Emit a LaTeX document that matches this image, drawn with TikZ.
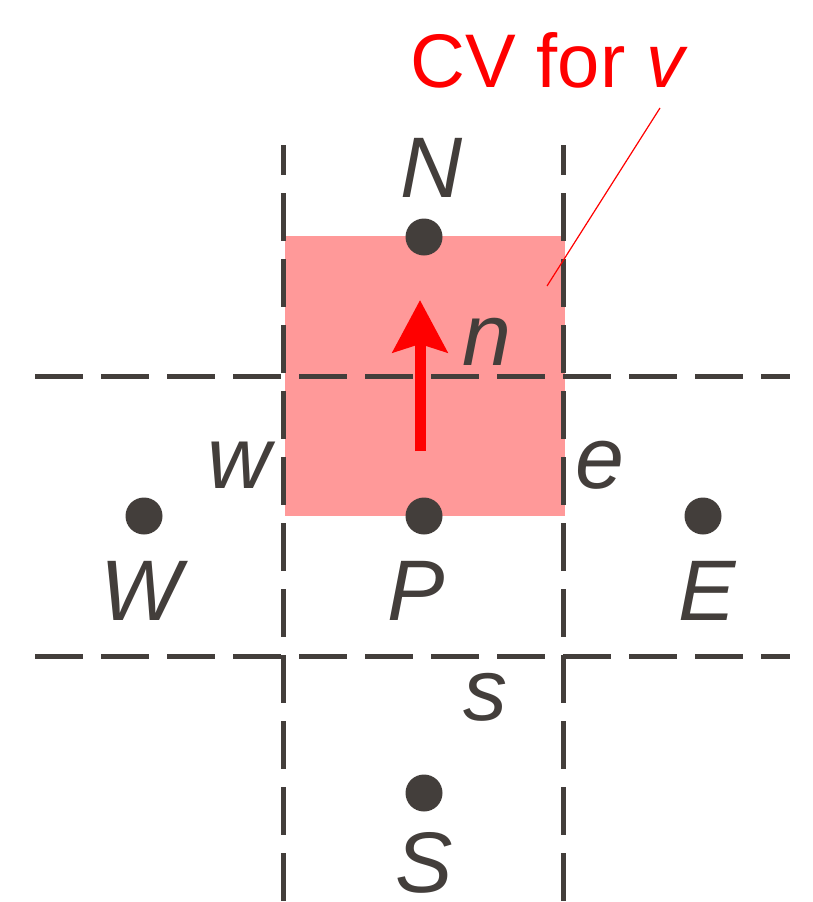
\documentclass[tikz,border=0pt]{standalone}
\usepackage{fontspec}
\setmainfont{Liberation Sans}
\usetikzlibrary{arrows.meta}
\definecolor{ink}{RGB}{67,62,59}
\definecolor{cvpink}{RGB}{255,153,153}
\definecolor{cvred}{RGB}{255,0,0}
\begin{document}
\begin{tikzpicture}[x=1pt,y=-1pt,
  gridline/.style={draw=ink,line width=5pt,dash pattern=on 48pt off 18pt},
  vgrid/.style={gridline,dash phase=18pt},
  gridpt/.style={circle,fill=ink,minimum size=37pt,inner sep=0pt},
  biglbl/.style={text=ink,font=\fontsize{86}{86}\selectfont\itshape,inner sep=0pt,anchor=base,text depth=0pt},
  facelbl/.style={text=ink,font=\fontsize{88}{88}\selectfont\itshape,inner sep=0pt,anchor=base},
  cvlbl/.style={text=cvred,font=\fontsize{76}{76}\selectfont,inner sep=0pt,anchor=base west},
  cvarrow/.style={draw=cvred,line width=11pt,-{Stealth[length=52pt,width=54pt,inset=8pt]}},
  leader/.style={draw=cvred,line width=1.2pt}
]
\useasboundingbox (0,0) rectangle (813,902);
% control volume
\fill[cvpink] (285,236) rectangle (565,516);
% grid lines
\coordinate (h1a) at (35,376);  \coordinate (h1b) at (790,376);
\coordinate (h2a) at (35,656);  \coordinate (h2b) at (790,656);
\coordinate (v1a) at (283,145); \coordinate (v1b) at (283,902);
\coordinate (v2a) at (563,145); \coordinate (v2b) at (563,902);
\draw[gridline] (h1a) -- (h1b);
\draw[gridline] (h2a) -- (h2b);
\draw[vgrid] (v1a) -- (v1b);
\draw[vgrid] (v2a) -- (v2b);
% nodes
\node[gridpt] (N) at (424,237) {};
\node[gridpt] (P) at (424,516) {};
\node[gridpt] (W) at (144,516) {};
\node[gridpt] (E) at (703,516) {};
\node[gridpt] (S) at (424,793) {};
% labels
\node[biglbl] (Nl) at (432,197) {N};
\node[biglbl] (Wl) at (141,620) {W};
\node[biglbl] (Pl) at (416,620) {P};
\node[biglbl] (El) at (707,620) {E};
\node[biglbl] (Sl) at (424,892) {S};
\node[facelbl] (wl) at (239,488) {w};
\node[facelbl] (el) at (600,488) {e};
\node[facelbl] (nl) at (487,365) {n};
\node[facelbl] (sl) at (485,720) {s};
% velocity arrow
\coordinate (a0) at (420,451);
\coordinate (a1) at (420,300);
\draw[cvarrow] (a0) -- (a1);
% CV label and leader
\node[cvlbl] (cv) at (410,87) {CV for \textit{v}};
\coordinate (l0) at (660,108);
\coordinate (l1) at (547,286);
\draw[leader] (l0) -- (l1);
\end{tikzpicture}
\end{document}
